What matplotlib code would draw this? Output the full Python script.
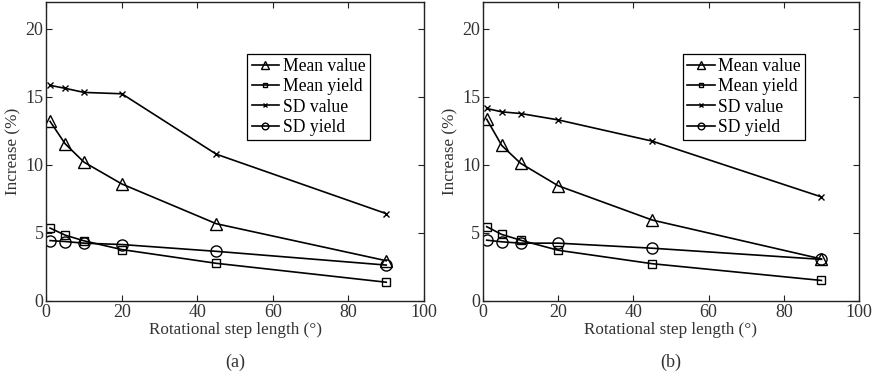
import numpy as np
import matplotlib.pyplot as plt

plt.rcParams['font.family'] = ['Liberation Serif', 'DejaVu Serif']
plt.rcParams['mathtext.fontset'] = 'stix'

# rotational step length (deg)
steps = [1, 5, 10, 20, 45, 90]

# panel (a)
a_mean_value = [13.2, 11.55, 10.2, 8.6, 5.68, 2.96]
a_mean_yield = [5.36, 4.84, 4.42, 3.78, 2.77, 1.38]
a_sd_value = [15.85, 15.63, 15.33, 15.23, 10.79, 6.42]
a_sd_yield = [4.44, 4.37, 4.25, 4.15, 3.65, 2.64]

# panel (b)
b_mean_value = [13.36, 11.43, 10.12, 8.47, 5.95, 3.09]
b_mean_yield = [5.46, 4.89, 4.47, 3.73, 2.74, 1.51]
b_sd_value = [14.15, 13.9, 13.78, 13.31, 11.75, 7.65]
b_sd_yield = [4.47, 4.35, 4.25, 4.25, 3.88, 3.06]

labels = ['Mean value', 'Mean yield', 'SD value', 'SD yield']
markers = ['^', 's', 'x', 'o']
msizes = [9, 6, 5, 8]

fig = plt.figure(figsize=(8.77, 3.77), dpi=100)
ax_a = fig.add_axes([0.0528, 0.2016, 0.4307, 0.794])
ax_b = fig.add_axes([0.5507, 0.2016, 0.4288, 0.794])

panels = [(ax_a, [a_mean_value, a_mean_yield, a_sd_value, a_sd_yield], '(a)'),
          (ax_b, [b_mean_value, b_mean_yield, b_sd_value, b_sd_yield], '(b)')]

for ax, series, tag in panels:
    for ys, lab, m, ms in zip(series, labels, markers, msizes):
        ax.plot(steps, ys, color='black', lw=1.2, marker=m, ms=ms,
                mfc='none', mec='black', mew=1.0, label=lab)
    ax.set_xlim(0, 100)
    ax.set_ylim(0, 22)
    ax.set_xticks(np.arange(0, 101, 20))
    ax.set_yticks(np.arange(0, 21, 5))
    ax.tick_params(direction='in', top=True, right=True, labelsize=13,
                   length=4, width=0.8, pad=2, colors='#222222', labelcolor='#333333')
    for sp in ax.spines.values():
        sp.set_linewidth(1.0)
        sp.set_color('#222222')
    ax.set_xlabel('Rotational step length (°)', fontsize=12.3, labelpad=1, color='#333333')
    ax.set_ylabel('Increase (%)', fontsize=12.3, labelpad=3, color='#333333')
    leg = ax.legend(loc='upper left', bbox_to_anchor=(0.532, 0.826), fontsize=12.7,
                    frameon=True, fancybox=False, edgecolor='black', framealpha=1,
                    handlelength=1.55, handletextpad=0.2, borderpad=0.25,
                    labelspacing=0.18, borderaxespad=0, markerscale=0.6)
    leg.get_frame().set_linewidth(0.9)
    ax.text(0.5, -0.204, tag, transform=ax.transAxes, ha='center', va='center',
            fontsize=13, color='#333333')

fig.savefig('out.png', dpi=100)
